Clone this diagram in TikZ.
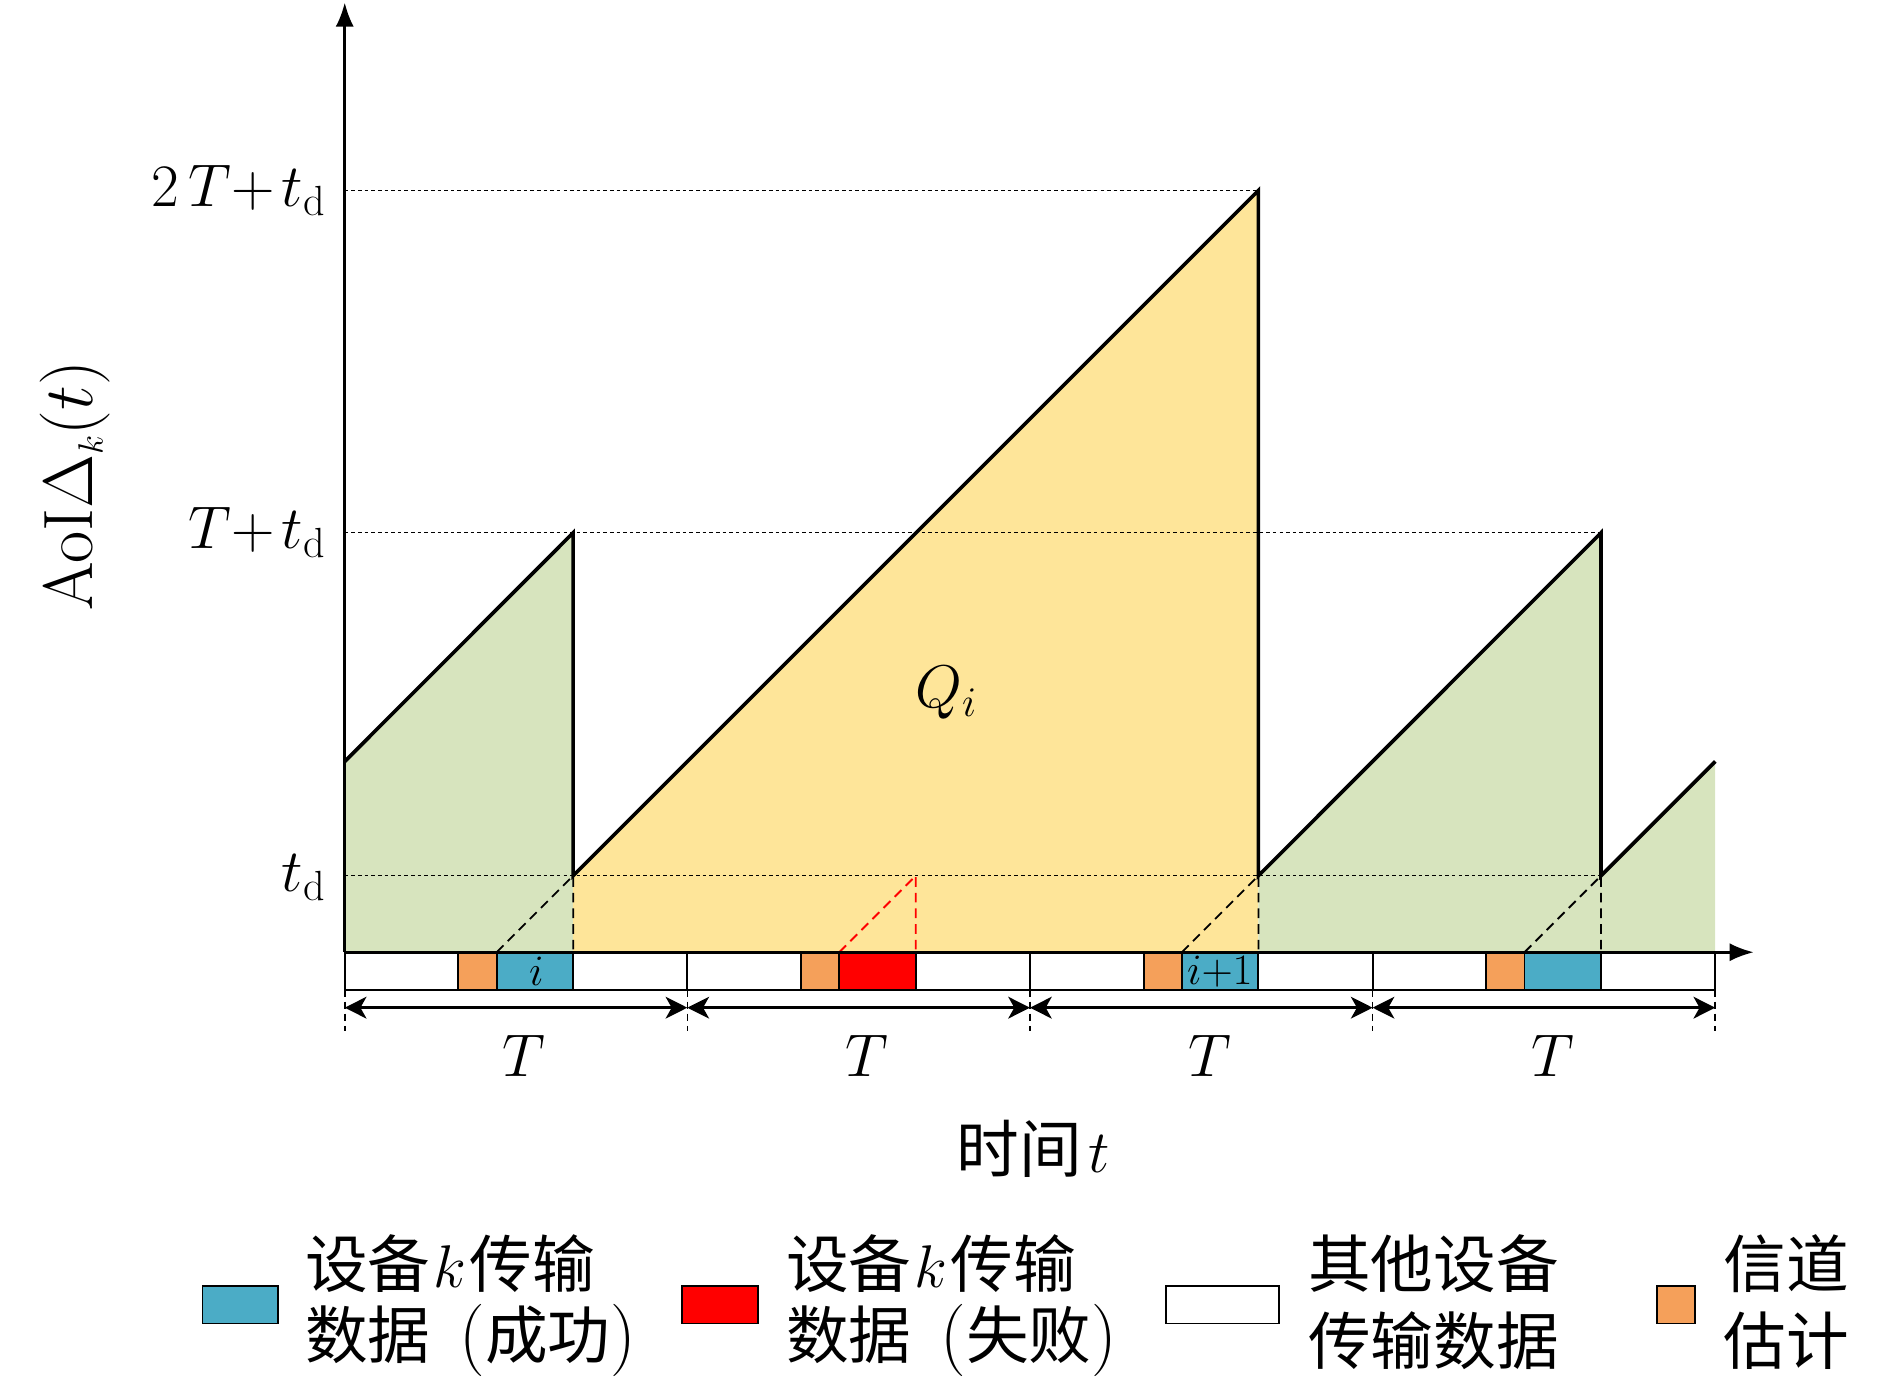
\RequirePackage{fix-cm}
\documentclass[tikz,border=0pt]{standalone}
\usepackage{fontspec}
\newfontfamily\cjk{Noto Sans CJK SC}
\usetikzlibrary{arrows.meta}
\definecolor{aoigreen}{RGB}{215,228,190}
\definecolor{aoiyellow}{RGB}{254,229,153}
\definecolor{aoiblue}{RGB}{75,172,198}
\definecolor{aoiorange}{RGB}{245,160,90}
\definecolor{aoired}{RGB}{255,0,0}
\newcommand{\bigparen}[1]{{\fontsize{60}{60}\selectfont\rmfamily #1}}
\begin{document}
\begin{tikzpicture}[x=1pt,y=-1pt,
  lbl/.style={font=\fontsize{50}{60}\selectfont, inner sep=0pt},
  ylbl/.style={font=\fontsize{58}{66}\selectfont, inner sep=0pt},
  smalllbl/.style={font=\fontsize{36}{40}\selectfont, inner sep=0pt},
  cjklbl/.style={font=\fontsize{52}{62}\selectfont\cjk, inner sep=0pt, anchor=west},
  aoiline/.style={line width=3pt, line join=miter},
  axisline/.style={line width=2.4pt},
  barline/.style={line width=1.6pt},
  guide/.style={line width=1.1pt, dash pattern=on 3pt off 2.5pt},
  helper/.style={line width=1.5pt, dash pattern=on 8pt off 5pt},
  dimarrow/.style={line width=2.4pt, {Stealth[length=18pt,width=18pt,inset=5pt]}-{Stealth[length=18pt,width=18pt,inset=5pt]}},
  tick/.style={line width=1.3pt, dash pattern=on 6pt off 4pt},
  legbox/.style={draw=black, line width=1.6pt}
]
\path[use as bounding box] (0,0) rectangle (1568,1147);

% fills
\fill[aoigreen] (286,790) -- (286,631.75) -- (475.5,442) -- (475.5,790) -- cycle;
\fill[aoiyellow] (475.5,790) -- (475.5,726.5) -- (1044,158) -- (1044,790) -- cycle;
\fill[aoigreen] (1044,790) -- (1044,726.5) -- (1328.25,442) -- (1328.25,790) -- cycle;
\fill[aoigreen] (1328.25,790) -- (1328.25,726.5) -- (1423,631.75) -- (1423,790) -- cycle;

% guide lines
\draw[guide] (286,726.5) -- (1328.25,726.5);
\draw[guide] (286,442) -- (1328.25,442);
\draw[guide] (286,158) -- (1044,158);

% helper dashed lines
\draw[helper] (412,790) -- (475.5,726.5) -- (475.5,790);
\draw[helper, aoired] (696.25,790) -- (759.75,726.5) -- (759.75,790);
\draw[helper] (980.5,790) -- (1044,726.5) -- (1044,790);
\draw[helper] (1264.75,790) -- (1328.25,726.5) -- (1328.25,790);

% time bar blocks
\foreach \k/\c in {0/aoiblue,1/aoired,2/aoiblue,3/aoiblue} {
  \pgfmathsetmacro\p{286+284.25*\k}
  \fill[aoiorange] (\p+94.25,790) rectangle (\p+126,821);
  \fill[\c] (\p+126,790) rectangle (\p+189.5,821);
  \draw[barline] (\p+94.25,790) -- (\p+94.25,821);
  \draw[barline] (\p+126,790) -- (\p+126,821);
  \draw[barline] (\p+189.5,790) -- (\p+189.5,821);
}
\draw[barline] (286,790) rectangle (1423,821);
\foreach \x in {570.25,854.5,1138.75} \draw[barline] (\x,790) -- (\x,821);

\node[smalllbl] (li) at (445,806) {$i$};
\node[smalllbl] (li1) at (1012,806) {$i{+}1$};

% period ticks and dimension arrows
\foreach \x [count=\n] in {286,570.25,854.5,1138.75,1423}
  \coordinate (b\n) at (\x,836);
\foreach \x in {286,570.25,854.5,1138.75,1423}
  \draw[tick] (\x,821) -- (\x,855);
\draw[dimarrow] (b1) -- (b2);
\draw[dimarrow] (b2) -- (b3);
\draw[dimarrow] (b3) -- (b4);
\draw[dimarrow] (b4) -- (b5);
\node[lbl, anchor=base] (T1) at (435,893) {$T$};
\node[lbl, anchor=base] (T2) at (719.5,893) {$T$};
\node[lbl, anchor=base] (T3) at (1003.5,893) {$T$};
\node[lbl, anchor=base] (T4) at (1288,893) {$T$};

% AoI curve
\draw[aoiline] (286,631.75) -- (475.5,442) -- (475.5,726.5) -- (1044,158) -- (1044,726.5) -- (1328.25,442) -- (1328.25,726.5) -- (1423,631.75);

% axes
\coordinate (o) at (286,790);
\coordinate (xend) at (1455,790);
\coordinate (yend) at (286,2);
\draw[axisline, -{Latex[length=20pt,width=15pt]}] (o) -- (xend);
\draw[axisline, -{Latex[length=20pt,width=15pt]}] (o) -- (yend);

% axis labels
\node[lbl, anchor=base east] (ltd) at (270,739.5) {$t_{\mathrm{d}}$};
\node[lbl, anchor=base east] (lTtd) at (270,455) {$T{+}\mkern2mu t_{\mathrm{d}}$};
\node[lbl, anchor=base east] (l2Ttd) at (270,171) {$2\,T{+}\mkern2mu t_{\mathrm{d}}$};
\node[ylbl, rotate=90] (ylab) at (62,403) {AoI$\Delta_{\scriptscriptstyle k}(t)$};
\node[lbl] (q) at (785,575) {$Q_i$};
\node[lbl] (xlab) at (857,953) {{\fontsize{52}{62}\selectfont\cjk 时间}$\mkern2mu t$};

% legend
\filldraw[legbox, fill=aoiblue] (168,1067) rectangle (231,1098);
\filldraw[legbox, fill=aoired] (566,1067) rectangle (629,1098);
\filldraw[legbox, fill=white] (967,1067) rectangle (1061,1098);
\filldraw[legbox, fill=aoiorange] (1375,1067) rectangle (1406,1098);
\node[cjklbl] (lg1a) at (253,1048) {设备{\fontsize{50}{60}\selectfont$\mkern1mu k\mkern1mu$}传输};
\node[cjklbl] (lg1b) at (253,1112) {数据\hspace{24pt}\bigparen{(}成功\bigparen{)}};
\node[cjklbl] (lg2a) at (652,1048) {设备{\fontsize{50}{60}\selectfont$\mkern1mu k\mkern1mu$}传输};
\node[cjklbl] (lg2b) at (652,1112) {数据\hspace{24pt}\bigparen{(}失败\bigparen{)}};
\node[cjklbl] (lg3a) at (1085,1048) {其他设备};
\node[cjklbl] (lg3b) at (1085,1112) {传输数据};
\node[cjklbl] (lg4a) at (1430,1048) {信道};
\node[cjklbl] (lg4b) at (1430,1112) {估计};
\end{tikzpicture}
\end{document}
